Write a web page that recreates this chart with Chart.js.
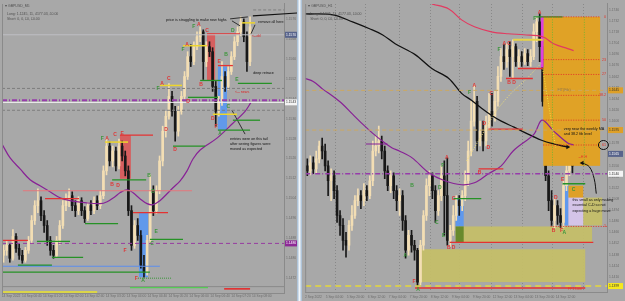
<!DOCTYPE html>
<html><head><meta charset="utf-8">
<script src="https://cdn.jsdelivr.net/npm/chart.js@4.4.0/dist/chart.umd.min.js"></script>
<style>
html,body{margin:0;padding:0;background:#a8a8a8;width:625px;height:301px;overflow:hidden}
#cl{position:absolute;left:0;top:0}
#cr{position:absolute;left:302px;top:0}
#sep{position:absolute;left:297px;top:0;width:5px;height:301px;background:linear-gradient(90deg,#9db6cf,#f2f6fa,#9db6cf)}
</style></head><body>
<canvas id="cl" width="297" height="301"></canvas>
<div id="sep"></div>
<canvas id="cr" width="323" height="301"></canvas>
<script>
// ---------------- LEFT PANEL (GBPUSD M5) ----------------
const L_open=[1.14810,1.14830,1.14850,1.14798,1.14886,1.14838,1.14810,1.14790,1.14830,1.14870,
1.14950,1.15010,1.15030,1.14970,1.14930,1.14870,1.14830,1.14810,1.14870,1.14930,
1.15010,1.15030,1.15050,1.15010,1.14990,1.15030,1.14990,1.14958,1.15010,1.14990,
1.15030,1.15010,1.15050,1.15150,1.15250,1.15190,1.15230,1.15170,1.15250,1.15210,
1.15150,1.14990,1.14850,1.14930,1.14890,1.14770,1.14742,1.14870,1.15070,1.14990,
1.15070,1.15190,1.15310,1.15370,1.15450,1.15390,1.15310,1.15390,1.15450,1.15530,
1.15610,1.15590,1.15650,1.15690,1.15710,1.15590,1.15650,1.15630,1.15490,1.15390,
1.15430,1.15530,1.15490,1.15550,1.15610,1.15670,1.15710,1.15750,1.15690,1.15590];
const L_high=[1.14850,1.14870,1.14858,1.14914,1.14898,1.14854,1.14830,1.14842,1.14886,1.14970,
1.15030,1.15078,1.15046,1.14990,1.14950,1.14886,1.14850,1.14886,1.14950,1.15030,
1.15058,1.15078,1.15066,1.15030,1.15046,1.15042,1.15006,1.15022,1.15030,1.15046,
1.15050,1.15070,1.15170,1.15278,1.15266,1.15250,1.15246,1.15278,1.15270,1.15230,
1.15170,1.15010,1.14950,1.14958,1.14910,1.14810,1.14890,1.15134,1.15090,1.15090,
1.15210,1.15330,1.15390,1.15502,1.15470,1.15410,1.15410,1.15470,1.15550,1.15630,
1.15658,1.15670,1.15710,1.15730,1.15718,1.15670,1.15670,1.15646,1.15510,1.15450,
1.15590,1.15550,1.15570,1.15630,1.15690,1.15730,1.15770,1.15762,1.15710,1.15770];
const L_low=[1.14782,1.14810,1.14782,1.14790,1.14822,1.14794,1.14778,1.14782,1.14818,1.14858,
1.14934,1.14982,1.14950,1.14902,1.14850,1.14810,1.14798,1.14802,1.14854,1.14918,
1.14990,1.15006,1.14990,1.14966,1.14974,1.14970,1.14942,1.14950,1.14974,1.14978,
1.14994,1.14998,1.15038,1.15134,1.15170,1.15166,1.15150,1.15158,1.15190,1.15130,
1.14970,1.14830,1.14838,1.14870,1.14758,1.14722,1.14730,1.14858,1.14970,1.14978,
1.15058,1.15170,1.15286,1.15358,1.15370,1.15270,1.15290,1.15378,1.15438,1.15518,
1.15570,1.15578,1.15638,1.15670,1.15518,1.15570,1.15610,1.15470,1.15330,1.15370,
1.15414,1.15470,1.15478,1.15538,1.15598,1.15654,1.15694,1.15670,1.15550,1.15574];
const L_close=[1.14830,1.14850,1.14798,1.14886,1.14838,1.14810,1.14790,1.14830,1.14870,1.14950,
1.15010,1.15030,1.14970,1.14930,1.14870,1.14830,1.14810,1.14870,1.14930,1.15010,
1.15030,1.15050,1.15010,1.14990,1.15030,1.14990,1.14958,1.15010,1.14990,1.15030,
1.15010,1.15050,1.15150,1.15250,1.15190,1.15230,1.15170,1.15250,1.15210,1.15150,
1.14990,1.14850,1.14930,1.14890,1.14770,1.14742,1.14870,1.15070,1.14990,1.15070,
1.15190,1.15310,1.15370,1.15450,1.15390,1.15310,1.15390,1.15450,1.15530,1.15610,
1.15590,1.15650,1.15690,1.15710,1.15590,1.15650,1.15630,1.15490,1.15390,1.15430,
1.15530,1.15490,1.15550,1.15610,1.15670,1.15710,1.15750,1.15690,1.15590,1.15730];
const L_yTicks=[1.1472,1.1476,1.1480,1.1484,1.1488,1.1492,1.1496,1.1500,1.1504,1.1508,1.1512,1.1516,1.1520,1.1524,1.1528,1.1532,1.1536,1.1540,1.1544,1.1548,1.1552,1.1556,1.1560,1.1564,1.1568,1.1572,1.1576];
const L_dates=['14 Sep 2022','14 Sep 00:40','14 Sep 01:20','14 Sep 02:00','14 Sep 02:40','14 Sep 03:20','14 Sep 04:00','14 Sep 04:40','14 Sep 05:20','14 Sep 06:00','14 Sep 06:40','14 Sep 07:20','14 Sep 08:00'];
const L_header=['\u25BE GBPUSD_M5','Long: 1.1245, 11, 4177.03, \u00A30.00','Short: 0, 0, \u00A30, \u00A30.00'];
const L_ma=[[-0.5,1.15258],[2.1,1.15202],[5.3,1.15158],[8.5,1.15114],[11.7,1.15090],[14.9,1.15066],[18.1,1.15042],[21.3,1.15030],[26.1,1.15022],[30.9,1.15018],[33.2,1.15026],[35.7,1.15046],[37.3,1.15062],[39.6,1.15074],[41.5,1.15062],[43.7,1.15038],[46.0,1.15018],[47.9,1.15014],[50.1,1.15030],[52.4,1.15058],[54.3,1.15082],[56.6,1.15110],[58.8,1.15150],[60.7,1.15198],[63.0,1.15234],[68.4,1.15282],[73.5,1.15342],[77.4,1.15390],[79.3,1.15426]];
const L_redLv=[[-0.5,7.8,1.14870],[13.3,24.2,1.15038],[41.5,52.7,1.14982],[37.3,47.9,1.15294],[65.2,75.8,1.15702],[68.7,73.5,1.15574]];
const L_pinkLv=[[6.2,60.4,1.15070]];
const L_greenLv=[[10.7,21.3,1.14866],[15.5,25.5,1.14802],[4.6,15.5,1.14770],[26.1,36.7,1.14938],[-0.5,46.9,1.14742],[34.8,45.7,1.15114],[46.9,57.5,1.14874],[54.3,64.6,1.15250],[63.0,70.0,1.15514],[59.1,68.7,1.15446],[75.1,86.0,1.15502],[73.5,82.2,1.15354],[68.7,79.0,1.15314]];
const L_greenFaintLv=[[43.1,54.0,1.14718]];
const L_yellowLv=[[32.5,39.9,1.15266],[50.1,57.2,1.15494],[57.5,65.2,1.15654],[76.4,80.6,1.15746],[67.1,74.8,1.15378]];
const L_blueLv=[[-0.5,50.1,1.14766]];
const L_purpleDash=[1.14858];
const L_grayDash=[1.15482,1.15394];
const L_grayDashSeg=[[80.0,89.9,1.15798]];
const L_purpleDashDot=[1.15434];
const L_bid=[1.15426];
const L_ask=[1.15698];
const L_redBoxes=[[37.3,40.8,1.15294,1.15118],[65.2,67.8,1.15702,1.15514]];
const L_blueBoxes=[[43.4,46.3,1.14982,1.14722],[68.7,71.6,1.15570,1.15314]];
const L_black=[[79.9,1.15774],[94.4,1.15786]];
const L_pointers=[[[73.2,1.15394],[77.4,1.15298]],[[72.6,1.15762],[78.3,1.15770]],[[73.2,1.15754],[75.8,1.15734]],[[80.6,1.15738],[79.3,1.15702]]];
const L_subYellow=[[-0.2,30.0,0.15]], L_subGreen=[[40.5,65.5,0.8]], L_subRed=[[70.7,79.0,0.6]];
const L_letters=[[61.0,1.15730,'F','g'],[62.6,1.15738,'A','r'],[65.2,1.15714,'C','r'],[73.5,1.15714,'D','g'],
[58.8,1.15658,'A','r'],[57.5,1.15638,'F','g'],[71.3,1.15618,'B','g'],[69.1,1.15590,'E','r'],
[63.3,1.15498,'B','r'],[74.8,1.15518,'E','g'],[59.1,1.15430,'D','r'],
[50.8,1.15502,'A','r'],[53.0,1.15522,'C','r'],[49.5,1.15482,'F','g'],
[52.1,1.15318,'D','r'],[55.0,1.15234,'D','r'],
[72.0,1.15410,'C','g'],[67.1,1.15362,'D','r'],[68.1,1.15330,'F','r'],[69.4,1.15298,'A','g'],
[31.6,1.15278,'F','g'],[33.2,1.15278,'A','r'],[35.7,1.15294,'C','r'],[38.0,1.15302,'E','r'],
[34.8,1.15094,'B','r'],[36.7,1.15090,'D','r'],
[46.6,1.15130,'B','g'],[47.9,1.15066,'D','g'],[48.9,1.14906,'E','g'],[47.6,1.14858,'C','g'],
[38.9,1.14830,'F','r'],[42.5,1.14718,'F','r'],[44.7,1.14710,'A','g']];
const L_notes=[[52.1,1.15758,'price is struggling to make new highs'],[81.6,1.15750,'remove all here'],[80.0,1.15546,'deep retrace'],[72.6,1.15278,'entries were on this tail'],[72.6,1.15258,'after seeing figures were'],[72.6,1.15238,'moved as expected']];
const L_redNotes=[[74.2,1.15466,'<-- news'],[79.6,1.15694,'<--dd']];
const L_markers=[[1.14858,'p'],[1.15426,'w'],[1.15698,'s']];

// ---------------- RIGHT PANEL (GBPUSD H1) ----------------
const R_open=[1.15498,1.15435,1.15535,1.15460,1.15585,1.15748,1.15685,1.15498,1.15310,1.15373,
1.15185,1.14873,1.14748,1.14560,1.14498,1.14748,1.14873,1.15060,1.15123,1.15060,
1.15185,1.15123,1.15310,1.15685,1.15748,1.15810,1.15685,1.15435,1.15248,1.15373,
1.15185,1.15060,1.15123,1.14810,1.14435,1.14623,1.14498,1.14435,1.14035,1.14498,
1.14873,1.15248,1.15373,1.15185,1.14935,1.15123,1.15373,1.15123,1.14560,1.14685,
1.14873,1.15060,1.14998,1.15123,1.15310,1.15685,1.16060,1.16310,1.15810,1.15935,
1.15810,1.15998,1.16185,1.16123,1.16310,1.16623,1.16873,1.16810,1.16960,1.16873,
1.16998,1.16810,1.16873,1.16810,1.16910,1.16810,1.16873,1.17185,1.17310,1.16998,
1.16310,1.15373,1.15060,1.14810,1.14998,1.14873,1.14785,1.15248,1.15435,1.15560];
const R_high=[1.15585,1.15623,1.15610,1.15685,1.15810,1.15848,1.15773,1.15560,1.15460,1.15435,
1.15248,1.14935,1.14835,1.14660,1.14810,1.14998,1.15123,1.15210,1.15185,1.15273,
1.15248,1.15373,1.15810,1.15873,1.15998,1.15873,1.15748,1.15498,1.15435,1.15410,
1.15248,1.15210,1.15185,1.14873,1.14685,1.14685,1.14560,1.14460,1.14560,1.14935,
1.15335,1.15435,1.15410,1.15248,1.15185,1.15498,1.15560,1.15598,1.14748,1.14998,
1.15123,1.15123,1.15185,1.15435,1.15810,1.16310,1.16510,1.16373,1.16060,1.16060,
1.16123,1.16410,1.16410,1.16435,1.16748,1.16973,1.17023,1.17035,1.17060,1.17085,
1.17035,1.16960,1.16935,1.16973,1.16960,1.16960,1.17285,1.17373,1.17410,1.17060,
1.16373,1.15435,1.15185,1.15085,1.15060,1.14960,1.15310,1.15560,1.15685,1.15648];
const R_low=[1.15373,1.15385,1.15398,1.15410,1.15535,1.15585,1.15435,1.15123,1.15060,1.15085,
1.14785,1.14623,1.14435,1.14348,1.14435,1.14685,1.14835,1.14998,1.14960,1.14998,
1.15060,1.15085,1.15248,1.15623,1.15660,1.15585,1.15335,1.15185,1.15160,1.15085,
1.14935,1.14873,1.14685,1.14335,1.14373,1.14410,1.14310,1.13985,1.13998,1.14435,
1.14810,1.15123,1.15085,1.14785,1.14873,1.15060,1.14623,1.14498,1.14485,1.14623,
1.14810,1.14873,1.14935,1.15060,1.15248,1.15623,1.15998,1.15685,1.15748,1.15685,
1.15748,1.15960,1.15998,1.16060,1.16248,1.16560,1.16710,1.16735,1.16623,1.16598,
1.16748,1.16735,1.16748,1.16773,1.16760,1.16748,1.16835,1.17060,1.16810,1.16248,
1.15310,1.14935,1.14748,1.14710,1.14760,1.14723,1.14723,1.15185,1.15373,1.15410];
const R_close=[1.15435,1.15535,1.15460,1.15585,1.15748,1.15685,1.15498,1.15310,1.15373,1.15185,
1.14873,1.14748,1.14560,1.14498,1.14748,1.14873,1.15060,1.15123,1.15060,1.15185,
1.15123,1.15310,1.15685,1.15748,1.15810,1.15685,1.15435,1.15248,1.15373,1.15185,
1.15060,1.15123,1.14810,1.14435,1.14623,1.14498,1.14435,1.14035,1.14498,1.14873,
1.15248,1.15373,1.15185,1.14935,1.15123,1.15373,1.15123,1.14560,1.14685,1.14873,
1.15060,1.14998,1.15123,1.15310,1.15685,1.16060,1.16310,1.15810,1.15935,1.15810,
1.15998,1.16185,1.16123,1.16310,1.16623,1.16873,1.16810,1.16960,1.16873,1.16998,
1.16810,1.16873,1.16810,1.16910,1.16810,1.16873,1.17185,1.17310,1.16998,1.16310,
1.15373,1.15060,1.14810,1.14998,1.14873,1.14785,1.15248,1.15435,1.15560,1.15498];
const R_yTicks=[1.1396,1.1410,1.1424,1.1438,1.1452,1.1466,1.1480,1.1494,1.1508,1.1522,1.1536,1.1550,1.1564,1.1578,1.1592,1.1606,1.1620,1.1634,1.1648,1.1662,1.1676,1.1690,1.1704,1.1718,1.1732,1.1746];
const R_dates=['2 Sep 2022','5 Sep 04:00','5 Sep 20:00','6 Sep 12:00','7 Sep 04:00','7 Sep 20:00','8 Sep 12:00','9 Sep 04:00','9 Sep 20:00','12 Sep 12:00','13 Sep 04:00','13 Sep 20:00','14 Sep 12:00'];
const R_grid=[9.6,19.6,30.9,41.2,51.1,61.8,72.4,82.4,92.7];
const R_header=['\u25BE GBPUSD_H1','Long: 1.1245, 11, 4177.03, \u00A30.00','Short: 0, 0, \u00A30, \u00A30.00'];
const R_ma=[[-0.7,1.16598],[2.0,1.16560],[5.3,1.16460],[8.6,1.16373],[11.9,1.16273],[15.2,1.16148],[18.6,1.16023],[21.9,1.15910],[25.2,1.15810],[28.5,1.15723],[30.9,1.15685],[35.2,1.15598],[40.8,1.15410],[46.1,1.15310],[51.8,1.15260],[56.1,1.15285],[60.8,1.15398],[65.1,1.15498],[69.1,1.15685],[76.1,1.15898],[78.8,1.16073],[82.7,1.15935],[87.4,1.15785],[89.4,1.15760]];
const R_slowMa=[[41.8,1.17535],[47.5,1.17473],[51.8,1.17335],[56.1,1.17248],[61.8,1.17185],[67.4,1.17160],[72.7,1.17148],[79.0,1.17123],[82.7,1.17035],[87.4,1.16973],[89.4,1.16948]];
const R_weekly=[[-0.7,1.17410],[8.6,1.17398],[15.2,1.17310],[20.9,1.17223],[25.2,1.17148],[29.5,1.17035],[36.2,1.16898],[41.8,1.16723],[47.5,1.16598],[51.8,1.16410],[55.1,1.16323],[58.5,1.16223],[61.8,1.16135],[65.1,1.16060],[69.4,1.15985],[73.4,1.15910],[78.4,1.15823],[82.7,1.15773],[87.4,1.15735]];
const R_fastDots=[[53.5,1.15560],[58.4,1.15873],[63.4,1.16185],[68.4,1.16410],[73.4,1.16585],[78.4,1.16785]];
const R_swingDots=[[79.0,1.16723],[83.4,1.15723]];
const R_arrow=[[97.0,1.15148],[96.3,1.15335],[94.7,1.15485],[92.3,1.15535]];
const R_redLv=[[60.8,72.4,1.15960],[66.7,75.7,1.16598],[70.7,79.0,1.16723],[47.8,96.0,1.14535],[36.2,93.3,1.13960],[57.5,65.8,1.15460]];
const R_yellowLv=[[69.1,79.0,1.17085]];
const R_greenLv=[[76.7,85.7,1.17373],[85.7,93.3,1.15273],[49.1,58.4,1.15085]];
const R_purpleLv=[[19.6,26.9,1.15773]];
const R_fib=[1.17373,1.16835,1.16648,1.16385,1.16073,1.15760];
const R_fibLabels=['0','23','27','38.2','50','61'];
const R_fibRange=[79.2,98.3];
const R_fibExt=[[81.7,100.6,1.14735,'1']];
const R_greenVert=[[82.3,1.17373,1.15498],[93.0,1.17373,1.15498]];
const R_tanDash=[1.16448,1.15948];
const R_yellowDash=[1.13985];
const R_purpleDashDot=[1.15398];
const R_orangeBox=[[79.2,98.3,1.17373,1.15498]];
const R_magentaBar=[[78.4,79.3,1.17373,1.16735]];
const R_oliveBoxes=[[37.5,93.3,1.14448,1.14035],[49.8,95.6,1.14735,1.14535],[92.6,99.0,1.15098,1.14748]];
const R_lavenderBox=[[87.6,92.6,1.15160,1.14748]];
const R_orangeSmall=[[87.6,92.6,1.15248,1.15098]];
const R_blueBoxes=[[86.3,87.6,1.15273,1.14748],[49.8,52.5,1.15085,1.14735]];
const R_darkGreenBox=[[49.8,52.5,1.14735,1.14535]];
const R_letters=[[78.0,1.17423,'A','r'],[76.4,1.17348,'F','g'],[64.4,1.16960,'F','g'],[66.1,1.17035,'A','r'],[67.7,1.17035,'C','r'],[67.7,1.16548,'B','r'],[69.4,1.16548,'D','r'],[56.1,1.16510,'A','r'],[54.5,1.16423,'F','g'],[61.8,1.16410,'C','r'],[59.4,1.16023,'D','r'],[60.8,1.15723,'D','r'],[46.8,1.15598,'A','r'],[45.5,1.15498,'F','g'],[35.2,1.15248,'B','g'],[44.5,1.15223,'D','g'],[43.5,1.14785,'C','g'],[45.8,1.14623,'E','g'],[32.9,1.14373,'A','g'],[35.8,1.14035,'F','r'],[37.2,1.13935,'A','g'],[47.5,1.14473,'B','r'],[49.1,1.14473,'D','r'],[49.1,1.15085,'C','r'],[57.8,1.15410,'B','r'],[85.7,1.15323,'E','r'],[83.4,1.15098,'D','r'],[89.4,1.15198,'C','g'],[82.7,1.14685,'B','r'],[85.3,1.14685,'F','r'],[86.3,1.14660,'A','g']];
const R_notes=[[86.1,1.15960,'very near the weekly MA'],[86.1,1.15898,'and 38.2 fib level'],[89.0,1.15073,'this small as only making'],[89.0,1.15010,'essential C-D so not'],[89.0,1.14935,'expecting a huge move']];
const R_grayNotes=[[84.0,1.16448,'FIT(Fib)']];
const R_redNotes=[[91.0,1.15610,'--H H'],[87.4,1.13948,'FF1 Low']];
const R_circle=[[99.4,1.15760]];
const R_markers=[[1.16448,'o'],[1.15948,'o'],[1.15648,'s'],[1.15398,'w'],[1.13985,'y']];

// ---------------- helpers ----------------
const FF='"Liberation Sans", Arial, sans-serif';
const COL={bull:'rgb(243,222,180)',bear:'rgb(24,24,24)',red:'rgb(228,50,50)',green:'rgb(38,146,38)',yellow:'rgb(238,214,44)',
 blue:'rgb(92,142,238)',pink:'rgb(228,118,124)',purple:'rgb(136,34,150)',gray:'rgb(124,124,124)',tick:'#6c6c6c',
 letter:{r:'rgb(222,56,56)',g:'rgb(60,150,60)'},
 marker:{p:['rgb(140,40,150)','#fff'],w:['#f4f4f4','#333'],s:['rgb(88,100,140)','#fff'],o:['rgb(222,160,40)','#333'],y:['rgb(246,232,30)','#333']}};
function candles(o,h,l,c){
  const col=o.map((v,i)=>c[i]>=v?COL.bull:COL.bear);
  return [
    {type:'bar',data:h.map((v,i)=>({x:i,y:[l[i],v]})),backgroundColor:col,barThickness:1,grouped:false,order:20,borderWidth:0},
    {type:'bar',data:o.map((v,i)=>({x:i,y:[v,c[i]]})),backgroundColor:col,barThickness:2,minBarLength:1,grouped:false,order:19,borderWidth:0}
  ];
}
function seg(s,color,w,dash,extra){return Object.assign({type:'line',data:[{x:s[0],y:s[2]},{x:s[1],y:s[2]}],borderColor:color,borderWidth:w,borderDash:dash||[],pointRadius:0,order:0},extra||{});}
function path(pts,color,w,extra){return Object.assign({type:'line',data:pts.map(p=>({x:p[0],y:p[1]})),borderColor:color,borderWidth:w,pointRadius:0,tension:0.35,order:0},extra||{});}
function boxFill(ctx,xs,ys,b,color){
  const x1=xs.getPixelForValue(b[0]),x2=xs.getPixelForValue(b[1]),y1=ys.getPixelForValue(b[2]),y2=ys.getPixelForValue(b[3]);
  ctx.fillStyle=color;ctx.fillRect(Math.min(x1,x2),Math.min(y1,y2),Math.abs(x2-x1),Math.abs(y2-y1));
}
function txt(ctx,x,y,s,color,font,align){ctx.fillStyle=color;ctx.font=font;ctx.textAlign=align||'left';ctx.textBaseline='middle';ctx.fillText(s,x,y);}
function overlay(S){
  return {id:'ov',
    beforeDatasetsDraw(ch){const ctx=ch.ctx,a=ch.chartArea,xs=ch.scales.x,ys=ch.scales.y;
      ctx.save();ctx.beginPath();ctx.rect(a.left,a.top,a.right-a.left,ys.bottom-a.top);ctx.clip();
      S.behind.forEach(g=>g[0].forEach(b=>boxFill(ctx,xs,ys,b,g[1])));ctx.restore();},
    afterDatasetDraw(ch,args){if(args.index!==1)return;const ctx=ch.ctx,a=ch.chartArea,xs=ch.scales.x,ys=ch.scales.y;
      ctx.save();ctx.beginPath();ctx.rect(a.left,a.top,a.right-a.left,ys.bottom-a.top);ctx.clip();
      S.over.forEach(g=>g[0].forEach(b=>boxFill(ctx,xs,ys,b,g[1])));ctx.restore();},
    afterDatasetsDraw(ch){const ctx=ch.ctx,xs=ch.scales.x,ys=ch.scales.y;ctx.save();
      S.letters.forEach(l=>txt(ctx,xs.getPixelForValue(l[0]),ys.getPixelForValue(l[1]),l[2],COL.letter[l[3]],'bold 5px '+FF,'center'));
      S.notes.forEach(g=>g[0].forEach(n=>txt(ctx,xs.getPixelForValue(n[0]),ys.getPixelForValue(n[1]),n[2],g[1],'3.7px '+FF,g[2]||'left')));
      (S.circles||[]).forEach(c=>{ctx.strokeStyle='#111';ctx.lineWidth=1;ctx.beginPath();ctx.ellipse(xs.getPixelForValue(c[0]),ys.getPixelForValue(c[1]),5,4.5,0,0,Math.PI*2);ctx.stroke();});
      ctx.restore();},
    afterDraw(ch){const ctx=ch.ctx,a=ch.chartArea,ys=ch.scales.y;ctx.save();
      ctx.strokeStyle='#8a8a8a';ctx.lineWidth=1;ctx.beginPath();ctx.moveTo(a.left+0.5,a.top);ctx.lineTo(a.left+0.5,a.bottom);
      if(ch.scales.ySub){ctx.moveTo(a.left,ch.scales.ySub.top+0.5);ctx.lineTo(a.right,ch.scales.ySub.top+0.5);}ctx.stroke();
      S.markers.forEach(m=>{const y=ys.getPixelForValue(m[0]);const c=COL.marker[m[1]];ctx.fillStyle=c[0];ctx.fillRect(a.right+1,y-3,ys.width-1,6);
        txt(ctx,a.right+2,y,m[0].toFixed(4),c[1],'3.3px '+FF,'left');});
      S.header.forEach((h,i)=>txt(ctx,a.left+(i?5:3),a.top+2+(i?8+5*(i-1):0),h,'#505050','3.5px '+FF,'left'));
      ctx.restore();}
  };
}
function yAxis(min,max,ticks,width,extra){return Object.assign({type:'linear',position:'right',min:min,max:max,grid:{display:false,drawTicks:false},
  border:{display:true,color:'#8a8a8a'},ticks:{font:{size:3.3,family:FF},color:COL.tick,padding:2,callback:v=>v.toFixed(4)},
  afterBuildTicks:s=>{s.ticks=ticks.map(v=>({value:v}));},afterFit:s=>{s.width=width;}},extra||{});}
function xAxis(min,max,labels,first,step,height,pad){return {type:'linear',min:min,max:max,offset:false,grid:{display:false,drawTicks:false},
  border:{display:true,color:'#8a8a8a'},ticks:{font:{size:3.3,family:FF},color:COL.tick,autoSkip:false,maxRotation:0,minRotation:0,padding:pad,callback:(v,i)=>labels[i]},
  afterBuildTicks:s=>{s.ticks=labels.map((d,k)=>({value:first+k*step}));},afterFit:s=>{s.height=height;}};}
const common={type:'line',options:{responsive:false,animation:false,events:[],devicePixelRatio:1,
  plugins:{legend:{display:false},tooltip:{enabled:false}}}};

// ---------------- left chart ----------------
const LX=[-0.5,89.88];
const full=(xr,p)=>[xr[0],xr[1],p];
const lds=[...candles(L_open,L_high,L_low,L_close),
  ...L_purpleDash.map(p=>seg(full(LX,p),'rgb(150,60,160)',1,[4,3])),
  ...L_grayDash.map(p=>seg(full(LX,p),'rgb(125,125,125)',1,[3,2])),
  ...L_grayDashSeg.map(s=>seg(s,'rgb(125,125,125)',1,[3,2])),
  ...L_purpleDashDot.map(p=>seg(full(LX,p),'rgb(150,60,170)',2,[5,2,1,2])),
  ...L_bid.map(p=>seg(full(LX,p),'rgb(246,246,246)',1)),
  ...L_ask.map(p=>seg(full(LX,p),'rgb(190,190,196)',1)),
  ...L_pinkLv.map(s=>seg(s,COL.pink,1)),
  ...L_blueLv.map(s=>seg(s,COL.blue,1)),
  ...L_redLv.map(s=>seg(s,COL.red,1.3)),
  ...L_greenLv.map(s=>seg(s,COL.green,1.3)),
  ...L_greenFaintLv.map(s=>seg(s,'rgba(60,150,60,0.7)',1.5,[1,1])),
  ...L_yellowLv.map(s=>seg(s,COL.yellow,1.5)),
  path(L_ma,COL.purple,1.2),
  path(L_black,'#111',1.2,{clip:false,tension:0}),
  ...L_pointers.map(p=>path(p,'#111',0.8,{tension:0})),
  ...L_subYellow.map(s=>seg(s,'rgb(236,228,40)',1.5,[],{yAxisID:'ySub'})),
  ...L_subGreen.map(s=>seg(s,'rgb(80,210,80)',1.5,[],{yAxisID:'ySub'})),
  ...L_subRed.map(s=>seg(s,'rgb(232,36,36)',1.5,[],{yAxisID:'ySub'}))];
new Chart(document.getElementById('cl'),{...common,data:{datasets:lds},
  options:{...common.options,layout:{autoPadding:false,padding:{left:2,top:2,right:0,bottom:1}},
    scales:{x:xAxis(LX[0],LX[1],L_dates,2.38,6.7,7,1),
      y:yAxis(1.14686,1.15822,L_yTicks,13,{stack:'L',stackWeight:41}),
      ySub:{type:'linear',position:'right',min:0,max:1,stack:'L',stackWeight:1,offset:false,grid:{display:false,drawTicks:false},border:{display:true,color:'#8a8a8a'},ticks:{display:false},afterFit:s=>{s.width=13;}}}},
  plugins:[overlay({behind:[[L_redBoxes,'rgba(222,82,82,0.85)'],[L_blueBoxes,'rgba(86,150,244,0.88)']],over:[],
    letters:L_letters,notes:[[L_notes,'#111'],[L_redNotes,'rgb(220,40,40)']],markers:L_markers,header:L_header})]});

// ---------------- right chart ----------------
const RX=[-0.7,100.6];
const arrowHead=(n,rot)=>({pointRadius:ctx=>ctx.dataIndex===n-1?2.6:0,pointStyle:'triangle',pointRotation:rot,pointBackgroundColor:'#111',pointBorderWidth:0});
const rds=[...candles(R_open,R_high,R_low,R_close),
  ...R_tanDash.map(p=>seg(full(RX,p),'rgb(204,168,96)',1,[4,3])),
  ...R_yellowDash.map(p=>seg(full(RX,p),'rgb(228,214,60)',1.5,[6,4])),
  ...R_purpleDashDot.map(p=>seg(full(RX,p),'rgb(150,60,170)',1.5,[5,2,1,2])),
  ...R_fib.map(p=>seg([R_fibRange[0],R_fibRange[1],p],'rgb(226,52,40)',1,[1,1.5])),
  ...R_fibExt.map(s=>seg(s,'rgb(226,52,40)',1,[1,1.5])),
  ...R_greenVert.map(v=>({type:'line',data:[{x:v[0],y:v[1]},{x:v[0],y:v[2]}],borderColor:'rgb(120,180,50)',borderWidth:1,borderDash:[1,1.5],pointRadius:0,order:0})),
  ...R_purpleLv.map(s=>seg(s,COL.purple,1.2)),
  ...R_redLv.map(s=>seg(s,COL.red,1.4)),
  ...R_greenLv.map(s=>seg(s,COL.green,1.4)),
  ...R_yellowLv.map(s=>seg(s,'rgb(232,212,70)',2)),
  path(R_fastDots,'rgb(236,220,120)',1,{borderDash:[1,1.5]}),
  path(R_swingDots,'rgb(240,226,60)',1,{borderDash:[1,1.5],tension:0}),
  path(R_ma,COL.purple,1.2),
  path(R_slowMa,'rgb(226,58,96)',1.2),
  path(R_weekly,'#111',1.3,arrowHead(R_weekly.length,90)),
  path(R_arrow,'#111',1,Object.assign({clip:false},arrowHead(R_arrow.length,-90)))];
new Chart(document.getElementById('cr'),{...common,data:{datasets:rds},
  options:{...common.options,layout:{autoPadding:false,padding:{left:0,top:2,right:2,bottom:0}},
    scales:{x:xAxis(RX[0],RX[1],R_dates,2.1,7.05,9,3),
      xg:{type:'linear',position:'top',min:RX[0],max:RX[1],display:true,grid:{display:true,drawTicks:false,color:'rgba(132,132,132,0.9)',lineWidth:1},border:{display:false,dash:[1,2]},ticks:{display:false},
        afterBuildTicks:s=>{s.ticks=R_grid.map(v=>({value:v}));},afterFit:s=>{s.height=0;}},
      y:yAxis(1.13910,1.17535,R_yTicks,16)}},
  plugins:[overlay({behind:[[R_oliveBoxes,'rgba(196,190,104,0.95)'],[R_lavenderBox,'rgb(212,196,232)'],[R_orangeSmall,'rgb(222,160,40)'],[R_blueBoxes,'rgba(86,150,244,0.9)'],[R_darkGreenBox,'rgb(104,138,44)']],
    over:[[R_orangeBox,'rgb(224,162,38)'],[R_magentaBar,'rgb(222,64,222)']],
    letters:R_letters,notes:[[R_notes,'#111'],[R_grayNotes,'rgb(150,120,70)'],[R_redNotes,'rgb(226,60,40)'],[R_fib.map((p,i)=>[100.3,p,R_fibLabels[i]]).concat(R_fibExt.map(s=>[100.3,s[2],s[3]])),'rgb(226,52,40)','right']],
    circles:R_circle,markers:R_markers,header:R_header})]});
</script>
</body></html>
